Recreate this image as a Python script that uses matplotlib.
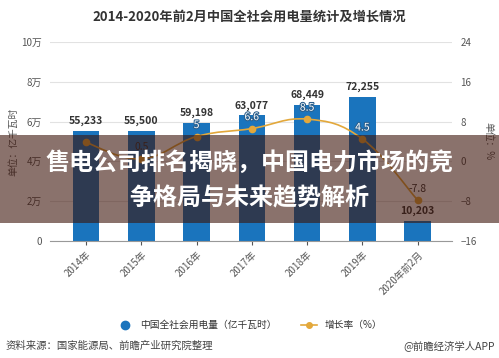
import numpy as np
import matplotlib.pyplot as plt
from matplotlib.patches import Rectangle, PathPatch
from matplotlib.path import Path
from matplotlib.lines import Line2D
import matplotlib.patheffects as pe

plt.rcParams['font.family'] = ['Noto Sans CJK SC', 'DejaVu Sans']

years = ["2014年", "2015年", "2016年", "2017年", "2018年", "2019年", "2020年前2月"]
usage = [55233, 55500, 59198, 63077, 68449, 72255, 10203]
usage_labels = ["55,233", "55,500", "59,198", "63,077", "68,449", "72,255", "10,203"]
rate = [3.8, 0.5, 5.0, 6.6, 8.5, 4.5, -7.8]
rate_labels = ["", "0.5", "5", "6.6", "8.5", "4.5", "-7.8"]
left_ticks = [0, 20000, 40000, 60000, 80000, 100000]
left_ticklabels = ["0", "2万", "4万", "6万", "8万", "10万"]
right_ticks = [-16, -8, 0, 8, 16, 24]

blue = "#1a74bd"
gold = "#e3a83b"
grey = "#555555"


def smooth_path(xs, ys, k=0.2):
    # bezier curve through the points (drawing only, like a smoothed line)
    verts = [(xs[0], ys[0])]
    codes = [Path.MOVETO]
    n = len(xs)
    for i in range(n - 1):
        p0 = (xs[max(i - 1, 0)], ys[max(i - 1, 0)])
        p1 = (xs[i], ys[i])
        p2 = (xs[i + 1], ys[i + 1])
        p3 = (xs[min(i + 2, n - 1)], ys[min(i + 2, n - 1)])
        c1 = (p1[0] + (p2[0] - p0[0]) * k, p1[1] + (p2[1] - p0[1]) * k)
        c2 = (p2[0] - (p3[0] - p1[0]) * k, p2[1] - (p3[1] - p1[1]) * k)
        verts += [c1, c2, p2]
        codes += [Path.CURVE4] * 3
    return Path(verts, codes)


W, H = 499, 358
fig = plt.figure(figsize=(W / 100, H / 100), dpi=100)
ax = fig.add_axes([50 / W, (H - 241) / H, (452 - 50) / W, (241 - 42) / H])
x = np.arange(len(years))

ax.bar(x, usage, width=0.48, color=blue, zorder=2)
for xi, u, s in zip(x, usage, usage_labels):
    ax.text(xi, u + 2500, s, ha="center", va="bottom", fontsize=7.5,
            color="#333333", fontweight="bold", zorder=3)

ax.set_xlim(-0.65, 6.62)
ax.set_ylim(0, 100000)
ax.set_yticks(left_ticks)
ax.set_yticklabels(left_ticklabels)
ax.set_xticks(x)
ax.set_xticklabels(years, rotation=45, ha="right", rotation_mode="anchor")
ax.tick_params(axis="x", labelsize=7, colors=grey, length=3, pad=3)
ax.tick_params(axis="y", labelsize=7, colors=grey, length=0, pad=6)
ax.grid(axis="y", color="#e2e2e2", linewidth=0.8, zorder=0)
for s in ["top", "right", "left"]:
    ax.spines[s].set_visible(False)
ax.spines["bottom"].set_color("#999999")
ax.set_ylabel("单位：亿千瓦时", fontsize=7, color=grey, labelpad=2)

ax2 = ax.twinx()
ax2.add_patch(PathPatch(smooth_path(x, rate), facecolor="none", edgecolor=gold,
                        linewidth=1.2, zorder=4))
ax2.plot(x, rate, color=gold, linestyle="none", marker="o", markersize=4.5,
         zorder=4)
for xi, r, s in zip(x, rate, rate_labels):
    if r > 0 and s != "0.5":
        ax2.text(xi, r + 1.3, s, ha="center", va="bottom", fontsize=7.5,
                 color="white", zorder=5,
                 path_effects=[pe.withStroke(linewidth=1.5, foreground="#2b5f8c")])
    else:
        ax2.text(xi, r + 1.3, s, ha="center", va="bottom", fontsize=7.5,
                 color="#333333", zorder=5)
ax2.set_ylim(-16, 24)
ax2.set_yticks(right_ticks)
ax2.tick_params(axis="y", labelsize=7, colors=grey, length=0, pad=6)
for s in ["top", "right", "left", "bottom"]:
    ax2.spines[s].set_visible(False)
ax2.set_ylabel("单位：%", fontsize=7, color=grey, rotation=270, labelpad=12)

fig.text(0.5, (H - 17) / H, "2014-2020年前2月中国全社会用电量统计及增长情况",
         ha="center", va="center", fontsize=9.5, fontweight="bold", color="#333333")

handles = [Line2D([], [], color=blue, marker="o", linestyle="none", markersize=6),
           Line2D([], [], color=gold, marker="o", markersize=4, linewidth=1.2)]
fig.legend(handles, ["中国全社会用电量（亿千瓦时）", "增长率（%）"],
           loc="center", bbox_to_anchor=(0.5, (H - 325) / H), ncol=2,
           frameon=False, fontsize=7, handlelength=1.6, columnspacing=2.5,
           labelcolor="#333333")

fig.text(6 / W, (H - 346) / H, "资料来源：国家能源局、前瞻产业研究院整理",
         ha="left", va="center", fontsize=7.5, color="#444444")
fig.text(495 / W, (H - 346) / H, "@前瞻经济学人APP",
         ha="right", va="center", fontsize=7.5, color="#444444")

# overlay banner
fig.patches.append(Rectangle((0, (H - 223) / H), 1, 88 / H, transform=fig.transFigure,
                             facecolor=(0.24, 0.08, 0.04), alpha=0.6,
                             edgecolor="none", zorder=10))
fig.text(0.5, (H - 163) / H, "售电公司排名揭晓，中国电力市场的竞",
         ha="center", va="center", fontsize=17.3, fontweight="heavy",
         color="white", zorder=11)
fig.text(0.5, (H - 198) / H, "争格局与未来趋势解析",
         ha="center", va="center", fontsize=17.3, fontweight="heavy",
         color="white", zorder=11)

fig.savefig("out.png", dpi=100)
